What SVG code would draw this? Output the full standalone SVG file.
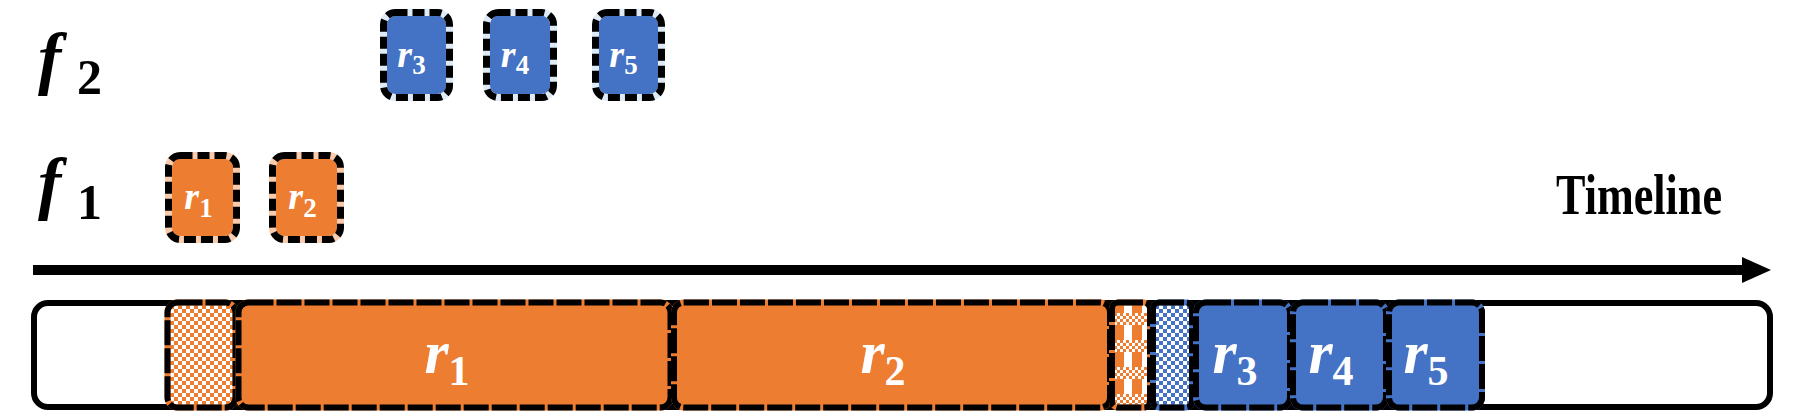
<svg xmlns="http://www.w3.org/2000/svg" width="1799" height="412" viewBox="0 0 1799 412">
<style>
.lab{font-family:"Liberation Serif","Times New Roman",serif;font-weight:bold;fill:#000}
.fi{font-style:italic}
.rt{font-family:"Liberation Serif","Times New Roman",serif;font-weight:bold;fill:#fff}
.ri{font-style:italic}
.tl{font-family:"Liberation Serif","Times New Roman",serif;font-weight:bold;font-size:57px;fill:#000}
.sbO{fill:#ED7D31;stroke:#F8CBAD;stroke-width:7}
.sbB{fill:#4472C4;stroke:#DEEBF7;stroke-width:7}
.sd{fill:none;stroke:#000;stroke-width:7;stroke-dasharray:12 5}
.bbO{stroke:#ED7D31;stroke-width:6}
.bbB{stroke:#4472C4;stroke-width:6}
.bd{fill:none;stroke:#000;stroke-width:6;stroke-dasharray:25 3}
</style>
<defs>
<pattern id="chkO" width="8" height="8" patternUnits="userSpaceOnUse" x="170" y="305">
<rect width="8" height="8" fill="#fff"/>
<rect width="4" height="4" fill="#ED7D31"/>
<rect x="4" y="4" width="4" height="4" fill="#ED7D31"/>
</pattern>
<pattern id="chkB" width="8" height="8" patternUnits="userSpaceOnUse" x="1155" y="305">
<rect width="8" height="8" fill="#fff"/>
<rect width="4" height="4" fill="#4472C4"/>
<rect x="4" y="4" width="4" height="4" fill="#4472C4"/>
</pattern>
<pattern id="plaid" width="18" height="27" patternUnits="userSpaceOnUse" x="1114" y="313">
<rect width="18" height="27" fill="#fff"/>
<rect width="10" height="27" fill="#ED7D31"/>
<rect width="18" height="12" fill="#fff"/>
<g fill="#ED7D31">
<rect x="0" y="0" width="3" height="3"/><rect x="6" y="0" width="3" height="3"/><rect x="12" y="0" width="3" height="3"/>
<rect x="3" y="3" width="3" height="3"/><rect x="9" y="3" width="3" height="3"/><rect x="15" y="3" width="3" height="3"/>
<rect x="0" y="6" width="3" height="3"/><rect x="6" y="6" width="3" height="3"/><rect x="12" y="6" width="3" height="3"/>
<rect x="3" y="9" width="3" height="3"/><rect x="9" y="9" width="3" height="3"/><rect x="15" y="9" width="3" height="3"/>
</g>
</pattern>
<marker id="ah" markerUnits="userSpaceOnUse" markerWidth="30" markerHeight="26" refX="0" refY="13" orient="auto">
<path d="M0,0 L29,13 L0,26 Z" fill="#000"/>
</marker>
</defs>

<!-- row labels -->
<g id="label-f2"><text class="lab" x="38" y="81"><tspan class="fi" font-size="70">f</tspan><tspan font-size="50" x="77" y="94">2</tspan></text></g>
<g id="label-f1"><text class="lab" x="38" y="206"><tspan class="fi" font-size="70">f</tspan><tspan font-size="50" x="77" y="219">1</tspan></text></g>
<g id="label-timeline"><text class="tl" x="1556" y="214" textLength="166" lengthAdjust="spacingAndGlyphs">Timeline</text></g>

<!-- connectors -->
<g id="connectors">
<line x1="33" y1="270" x2="1742" y2="270" stroke="#000" stroke-width="10" marker-end="url(#ah)"/>
</g>

<!-- arrival requests -->
<g id="req-r1-f1">
<rect class="sbO" x="168.5" y="155.5" width="68" height="84" rx="12"/>
<rect class="sd" x="168.5" y="155.5" width="68" height="84" rx="12"/>
<text class="rt" x="198.5" y="209" text-anchor="middle"><tspan class="ri" font-size="38">r</tspan><tspan font-size="27" dy="8">1</tspan></text>
</g>
<g id="req-r2-f1">
<rect class="sbO" x="272.5" y="155.5" width="68" height="84" rx="12"/>
<rect class="sd" x="272.5" y="155.5" width="68" height="84" rx="12"/>
<text class="rt" x="302.5" y="209" text-anchor="middle"><tspan class="ri" font-size="38">r</tspan><tspan font-size="27" dy="8">2</tspan></text>
</g>
<g id="req-r3-f2">
<rect class="sbB" x="383.5" y="12.5" width="66" height="85" rx="12"/>
<rect class="sd" x="383.5" y="12.5" width="66" height="85" rx="12"/>
<text class="rt" x="411.5" y="67" text-anchor="middle"><tspan class="ri" font-size="38">r</tspan><tspan font-size="27" dy="7">3</tspan></text>
</g>
<g id="req-r4-f2">
<rect class="sbB" x="486.5" y="12.5" width="67" height="85" rx="12"/>
<rect class="sd" x="486.5" y="12.5" width="67" height="85" rx="12"/>
<text class="rt" x="515" y="67" text-anchor="middle"><tspan class="ri" font-size="38">r</tspan><tspan font-size="27" dy="7">4</tspan></text>
</g>
<g id="req-r5-f2">
<rect class="sbB" x="595.5" y="12.5" width="66" height="85" rx="12"/>
<rect class="sd" x="595.5" y="12.5" width="66" height="85" rx="12"/>
<text class="rt" x="623.5" y="67" text-anchor="middle"><tspan class="ri" font-size="38">r</tspan><tspan font-size="27" dy="7">5</tspan></text>
</g>

<!-- execution bar -->
<g id="bar">
<rect x="34" y="303" width="1736" height="104" rx="14" fill="#fff" stroke="#000" stroke-width="6"/>
</g>
<g id="exec-load-f1">
<rect class="bbO" fill="url(#chkO)" x="167.5" y="302.5" width="68" height="105" rx="10"/>
<rect class="bd" x="167.5" y="302.5" width="68" height="105" rx="10"/>
</g>
<g id="exec-r1">
<rect class="bbO" fill="#ED7D31" x="238.5" y="302.5" width="432" height="105" rx="10"/>
<rect class="bd" x="238.5" y="302.5" width="432" height="105" rx="10"/>
<text class="rt" x="447" y="373" text-anchor="middle"><tspan class="ri" font-size="62">r</tspan><tspan font-size="42" dy="12">1</tspan></text>
</g>
<g id="exec-r2">
<rect class="bbO" fill="#ED7D31" x="674" y="302.5" width="436" height="105" rx="10"/>
<rect class="bd" x="674" y="302.5" width="436" height="105" rx="10"/>
<text class="rt" x="883" y="373" text-anchor="middle"><tspan class="ri" font-size="62">r</tspan><tspan font-size="42" dy="12">2</tspan></text>
</g>
<g id="exec-unload-f1">
<rect class="bbO" fill="url(#plaid)" x="1112" y="302.5" width="38" height="105" rx="6"/>
<rect class="bd" x="1112" y="302.5" width="38" height="105" rx="6"/>
</g>
<g id="exec-load-f2">
<rect class="bbB" fill="url(#chkB)" x="1153" y="302.5" width="39" height="105" rx="6"/>
<rect class="bd" x="1153" y="302.5" width="39" height="105" rx="6"/>
</g>
<g id="exec-r3">
<rect class="bbB" fill="#4472C4" x="1196" y="302.5" width="94" height="105" rx="10"/>
<rect class="bd" x="1196" y="302.5" width="94" height="105" rx="10"/>
<text class="rt" x="1235" y="373" text-anchor="middle"><tspan class="ri" font-size="62">r</tspan><tspan font-size="42" dy="12">3</tspan></text>
</g>
<g id="exec-r4">
<rect class="bbB" fill="#4472C4" x="1293" y="302.5" width="93" height="105" rx="10"/>
<rect class="bd" x="1293" y="302.5" width="93" height="105" rx="10"/>
<text class="rt" x="1331" y="373" text-anchor="middle"><tspan class="ri" font-size="62">r</tspan><tspan font-size="42" dy="12">4</tspan></text>
</g>
<g id="exec-r5">
<rect class="bbB" fill="#4472C4" x="1389" y="302.5" width="93" height="105" rx="10"/>
<rect class="bd" x="1389" y="302.5" width="93" height="105" rx="10"/>
<text class="rt" x="1426" y="373" text-anchor="middle"><tspan class="ri" font-size="62">r</tspan><tspan font-size="42" dy="12">5</tspan></text>
</g>
</svg>
